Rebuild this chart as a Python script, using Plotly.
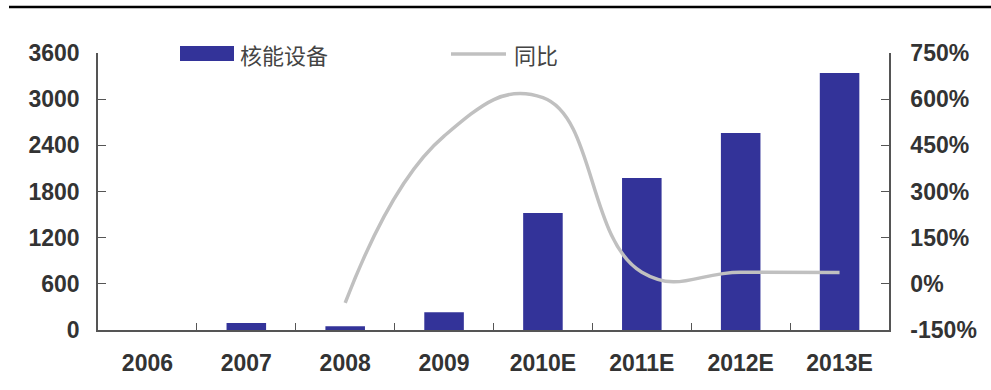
import plotly.graph_objects as go

# Categories and series
years = ["2006", "2007", "2008", "2009", "2010E", "2011E", "2012E", "2013E"]
equipment = [0, 90, 50, 230, 1520, 1975, 2560, 3340]          # 核能设备
yoy = [None, None, -62, 480, 605, 38, 38, 37]                  # 同比 (%)

left_ticks = [0, 600, 1200, 1800, 2400, 3000, 3600]
right_ticks = [-150, 0, 150, 300, 450, 600, 750]
right_labels = [f"{v}%" for v in right_ticks]

BAR_COLOR = "#333399"
LINE_COLOR = "#C0C0C0"
TEXT_COLOR = "#333333"
AXIS_COLOR = "#555555"
tick_font = dict(family="Liberation Sans, Arial, sans-serif", size=23, color=TEXT_COLOR)

fig = go.Figure()
fig.add_trace(go.Bar(
    x=years, y=equipment, name="核能设备",
    marker=dict(color=BAR_COLOR, line=dict(width=0)),
    width=0.4, yaxis="y",
))
fig.add_trace(go.Scatter(
    x=years, y=yoy, name="同比", mode="lines",
    line=dict(color=LINE_COLOR, width=3.5, shape="spline", smoothing=1.3),
    yaxis="y2", connectgaps=False,
))

W, H = 991, 390
ml, mr, mt, mb = 98, 102, 53, 60

fig.update_layout(
    width=W, height=H,
    margin=dict(l=ml, r=mr, t=mt, b=mb),
    paper_bgcolor="white", plot_bgcolor="white",
    showlegend=False,
    xaxis=dict(
        type="category", categoryorder="array", categoryarray=years,
        showline=True, linecolor=AXIS_COLOR, linewidth=1.5,
        ticks="inside", ticklen=7, tickcolor=AXIS_COLOR, tickson="boundaries",
        tickfont=tick_font, ticklabelstandoff=12,
        showgrid=False, zeroline=False,
        tickprefix="<b>", ticksuffix="</b>",
    ),
    yaxis=dict(
        range=[0, 3600], tickvals=left_ticks,
        ticktext=[f"<b>{v}</b>" for v in left_ticks],
        showline=True, linecolor=AXIS_COLOR, linewidth=1.5,
        ticks="inside", ticklen=8, tickcolor=AXIS_COLOR,
        tickfont=tick_font, ticklabelstandoff=12,
        showgrid=False, zeroline=False,
    ),
    yaxis2=dict(
        range=[-150, 750], tickvals=right_ticks,
        ticktext=[f"<b>{t}</b>" for t in right_labels],
        overlaying="y", side="right",
        showline=True, linecolor=AXIS_COLOR, linewidth=1.5,
        ticks="inside", ticklen=8, tickcolor=AXIS_COLOR,
        tickfont=tick_font, ticklabelstandoff=15,
        showgrid=False, zeroline=False,
    ),
)

# Helpers to place decorations in pixel terms relative to the plot area
pw = W - ml - mr
ph = H - mt - mb
def px_x(x):
    return (x - ml) / pw
def px_y(y):
    return 1 - (y - mt) / ph

# Top rule across the page
fig.add_shape(type="line", xref="paper", yref="paper",
              x0=px_x(9), x1=px_x(991), y0=px_y(7), y1=px_y(7),
              line=dict(color="black", width=2.5))

# Legend: bar swatch and label
fig.add_shape(type="rect", xref="paper", yref="paper",
              x0=px_x(180), x1=px_x(234), y0=px_y(61), y1=px_y(46),
              fillcolor=BAR_COLOR, line=dict(width=0))
fig.add_annotation(xref="paper", yref="paper", x=px_x(238), y=px_y(54),
                   text="核能设备", showarrow=False, xanchor="left", yanchor="middle",
                   font=dict(family="Noto Sans CJK SC", size=22, color="#444444"))
# Legend: line swatch and label
fig.add_shape(type="line", xref="paper", yref="paper",
              x0=px_x(451), x1=px_x(506), y0=px_y(54), y1=px_y(54),
              line=dict(color=LINE_COLOR, width=3.5))
fig.add_annotation(xref="paper", yref="paper", x=px_x(512), y=px_y(54),
                   text="同比", showarrow=False, xanchor="left", yanchor="middle",
                   font=dict(family="Noto Sans CJK SC", size=22, color="#444444"))

fig.write_html("out.html")
